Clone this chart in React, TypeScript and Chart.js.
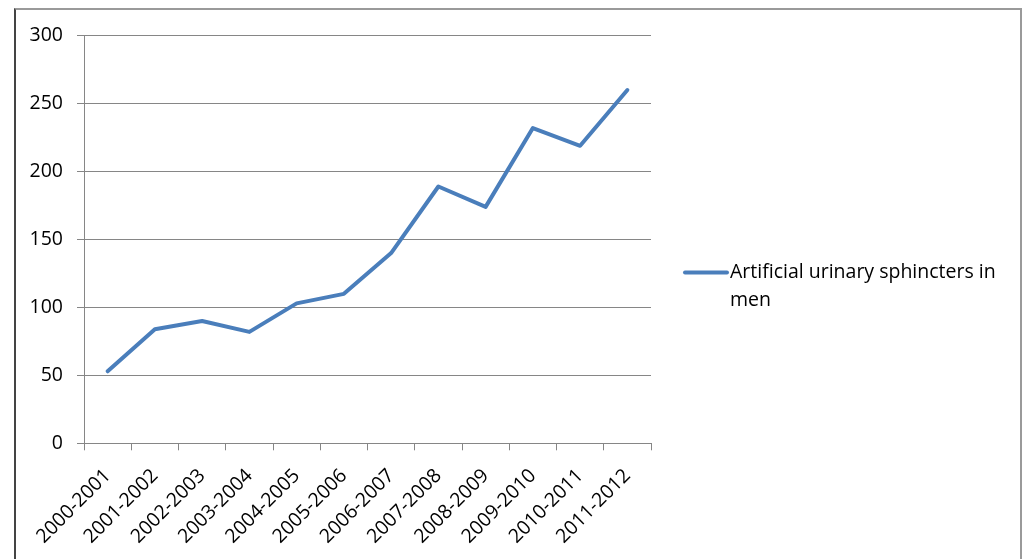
import { useEffect, useRef } from 'react';
import { Chart, registerables } from 'chart.js';

Chart.register(...registerables);

const categories = [
  '2000-2001', '2001-2002', '2002-2003', '2003-2004', '2004-2005', '2005-2006',
  '2006-2007', '2007-2008', '2008-2009', '2009-2010', '2010-2011', '2011-2012',
];
const sphincterCounts = [53, 84, 90, 82, 103, 110, 140, 189, 174, 232, 219, 260];
const yTickValues = [0, 50, 100, 150, 200, 250, 300];
const seriesLabel = 'Artificial urinary sphincters in men';

const LINE_BLUE = '#4a7ebb';
const GRID_GRAY = '#868686';
const TEXT_COLOR = '#000000';
const FONT_FAMILY = '"Open Sans", Lato, sans-serif';
const FONT_SIZE = 19.5;

// Legend drawn beside the plot: a short line sample followed by the wrapped series name.
const sideLegend = {
  id: 'sideLegend',
  afterDraw(chart: Chart) {
    const { ctx, chartArea } = chart;
    const ds = chart.data.datasets[0] as any;
    const lineHeight = 28;
    const sampleStart = chartArea.right + 32;
    const sampleLen = 46;
    const textX = sampleStart + sampleLen + 1;
    const maxTextWidth = chart.width - textX - 10;

    ctx.save();
    ctx.font = `${FONT_SIZE}px ${FONT_FAMILY}`;
    const words = String(ds.label).split(' ');
    const lines: string[] = [];
    let current = '';
    for (const w of words) {
      const trial = current ? current + ' ' + w : w;
      if (current && ctx.measureText(trial).width > maxTextWidth) {
        lines.push(current);
        current = w;
      } else {
        current = trial;
      }
    }
    if (current) lines.push(current);

    const firstY = chart.height / 2 - ((lines.length - 1) * lineHeight) / 2 + 2;

    ctx.strokeStyle = ds.borderColor;
    ctx.lineWidth = 4;
    ctx.lineCap = 'round';
    ctx.beginPath();
    ctx.moveTo(sampleStart + 2, firstY);
    ctx.lineTo(sampleStart + sampleLen - 2, firstY);
    ctx.stroke();

    ctx.fillStyle = TEXT_COLOR;
    ctx.textAlign = 'left';
    ctx.textBaseline = 'middle';
    lines.forEach((line, i) => ctx.fillText(line, textX, firstY + i * lineHeight));
    ctx.restore();
  },
};

export default function App() {
  const canvasRef = useRef<HTMLCanvasElement>(null);

  useEffect(() => {
    const canvas = canvasRef.current;
    if (!canvas) return;
    const chart = new Chart(canvas, {
      type: 'line',
      data: {
        labels: categories,
        datasets: [
          {
            label: seriesLabel,
            data: sphincterCounts,
            borderColor: LINE_BLUE,
            backgroundColor: LINE_BLUE,
            borderWidth: 4,
            pointRadius: 0,
            pointHoverRadius: 0,
            tension: 0,
            borderJoinStyle: 'round',
            borderCapStyle: 'round',
          },
        ],
      },
      options: {
        responsive: false,
        animation: false,
        events: [],
        layout: { padding: { top: 23.5, right: 369, bottom: 0, left: 0 } },
        scales: {
          x: {
            offset: true,
            grid: { offset: true, drawOnChartArea: false, color: GRID_GRAY, tickLength: 7 },
            border: { color: GRID_GRAY },
            ticks: {
              autoSkip: false,
              minRotation: 45,
              maxRotation: 45,
              color: TEXT_COLOR,
              padding: 14,
              font: { family: FONT_FAMILY, size: FONT_SIZE },
            },
            afterFit: (scale: any) => {
              scale.height = 115.7;
            },
          },
          y: {
            min: 0,
            max: 300,
            grid: { color: GRID_GRAY, tickLength: 7 },
            border: { color: GRID_GRAY },
            ticks: {
              color: TEXT_COLOR,
              padding: 14,
              font: { family: FONT_FAMILY, size: FONT_SIZE },
            },
            afterBuildTicks: (scale: any) => {
              scale.ticks = yTickValues.map((value) => ({ value }));
            },
            afterFit: (scale: any) => {
              scale.width = 68;
            },
          },
        },
        plugins: {
          legend: { display: false },
          tooltip: { enabled: false },
        },
      },
      plugins: [sideLegend],
    });
    return () => chart.destroy();
  }, []);

  return (
    <div
      style={{
        position: 'absolute',
        left: 14,
        top: 8,
        width: 1008,
        height: 551,
        boxSizing: 'border-box',
        borderLeft: '2px solid #444444',
        borderTop: '2px solid #9a9a9a',
        borderRight: '2px solid #9a9a9a',
        background: '#ffffff',
      }}
    >
      <canvas ref={canvasRef} width={1004} height={549} style={{ display: 'block' }} />
    </div>
  );
}
